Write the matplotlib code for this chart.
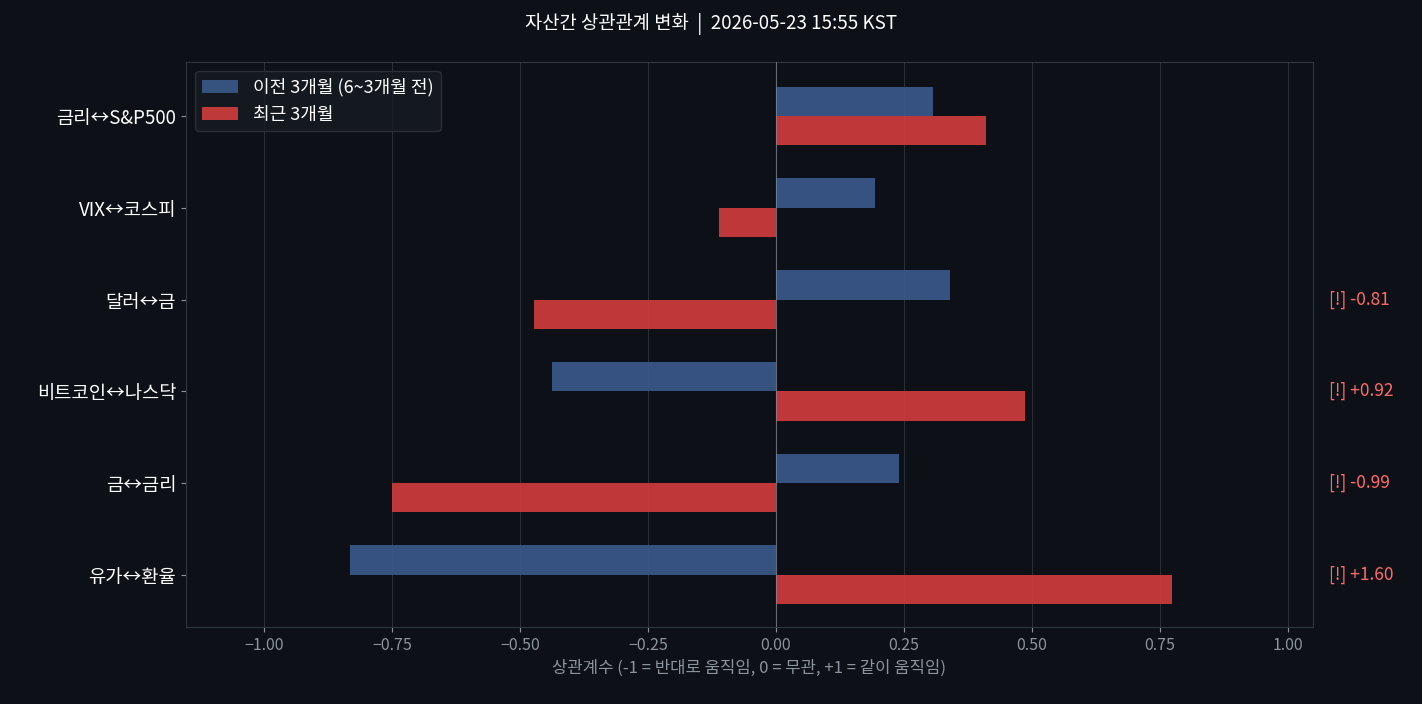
import matplotlib
matplotlib.use("Agg")
import matplotlib.pyplot as plt
import numpy as np

plt.rcParams['font.family'] = ['Noto Sans CJK KR', 'DejaVu Sans']
plt.rcParams['axes.unicode_minus'] = True

pairs = ["금리↔S&P500", "VIX↔코스피", "달러↔금", "비트코인↔나스닥", "금↔금리", "유가↔환율"]
prev = [0.307, 0.193, 0.34, -0.4375, 0.24, -0.832]
recent = [0.41, -0.111, -0.473, 0.486, -0.75, 0.773]
alerts = [None, None, "[!] -0.81", "[!] +0.92", "[!] -0.99", "[!] +1.60"]

bg = '#0d1117'
fig = plt.figure(figsize=(14.22, 7.04), dpi=100, facecolor=bg)
ax = fig.add_axes([186/1422, 1-627/704, 1127/1422, 565/704], facecolor=bg)

y = np.arange(len(pairs))
h = 0.32
ax.barh(y - h/2, prev, height=h, color='#3a5a8c', alpha=0.9, label='이전 3개월 (6~3개월 전)', zorder=2)
ax.barh(y + h/2, recent, height=h, color='#d33d3d', alpha=0.9, label='최근 3개월', zorder=2)
ax.set_yticks(y)
ax.set_yticklabels(pairs, fontsize=13.5)
ax.invert_yaxis()
ax.set_xlim(-1.152, 1.049)
ax.set_ylim(len(pairs) - 0.43, -0.59)
ax.set_xticks(np.arange(-1.0, 1.01, 0.25))
ax.set_xticklabels([f"{v:.2f}".replace('-', '−') for v in np.arange(-1.0, 1.01, 0.25)])
ax.tick_params(axis='x', colors='#8b949e', labelsize=11.5)
ax.tick_params(axis='y', colors='#8b949e', labelcolor='white')
ax.grid(axis='x', color='#30363d', linewidth=0.6, zorder=3)
ax.axvline(0, color='#8b949e', linewidth=0.8, alpha=0.6, zorder=4)
for s in ax.spines.values():
    s.set_color('#30363d')
ax.set_xlabel('상관계수 (-1 = 반대로 움직임, 0 = 무관, +1 = 같이 움직임)', color='#8b949e', fontsize=12)
for i, a in enumerate(alerts):
    if a:
        ax.text(1.014, i, a, transform=ax.get_yaxis_transform(), color='#ff6b6b',
                fontsize=12.5, va='center', ha='left')
leg = ax.legend(loc='upper left', facecolor='#161b22', edgecolor='#30363d', fontsize=13, labelcolor='white')
fig.text(0.5, 1-24/704, '자산간 상관관계 변화  |  2026-05-23 15:55 KST', color='white', fontsize=13.5, ha='center', va='center')
fig.savefig('out.png', facecolor=bg)
